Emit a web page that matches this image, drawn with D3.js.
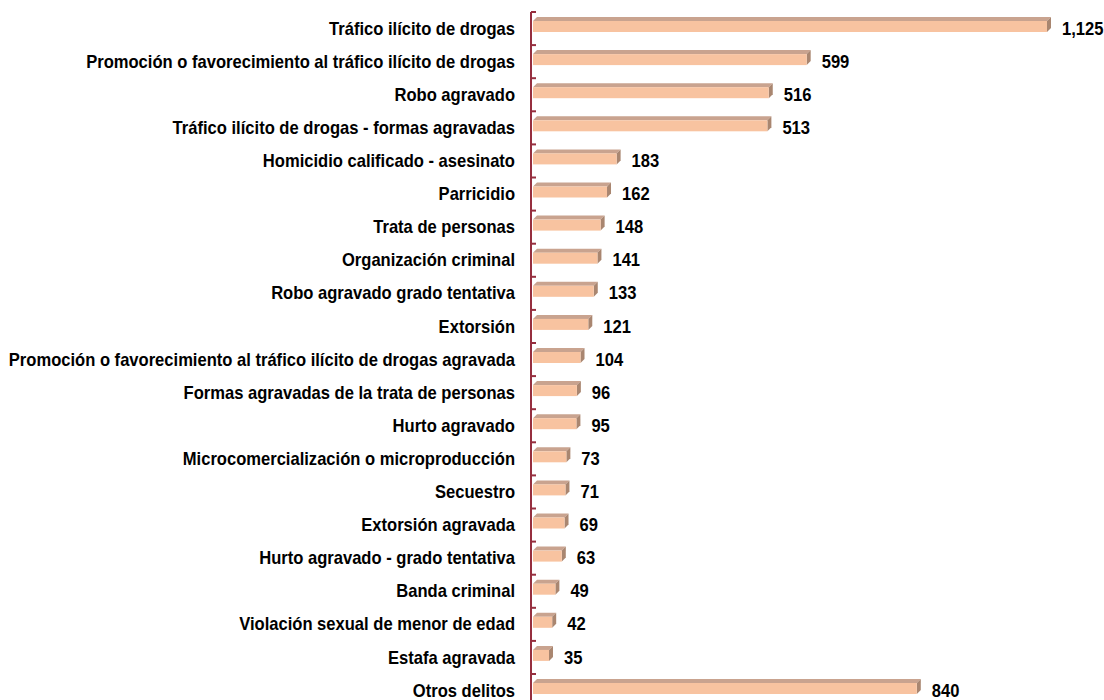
<!DOCTYPE html>
<html><head><meta charset="utf-8">
<script src="https://cdn.jsdelivr.net/npm/d3@7"></script>
<style>
body{margin:0;background:#fff;}
text{font-family:"Liberation Sans",Arial,sans-serif;font-weight:bold;fill:#000;}
</style></head>
<body><svg id="c" width="1104" height="700"></svg>
<script>
const categories = [
 "Tráfico ilícito de drogas",
 "Promoción o favorecimiento al tráfico ilícito de drogas",
 "Robo agravado",
 "Tráfico ilícito de drogas - formas agravadas",
 "Homicidio calificado - asesinato",
 "Parricidio",
 "Trata de personas",
 "Organización criminal",
 "Robo agravado grado tentativa",
 "Extorsión",
 "Promoción o favorecimiento al tráfico ilícito de drogas agravada",
 "Formas agravadas de la trata de personas",
 "Hurto agravado",
 "Microcomercialización o microproducción",
 "Secuestro",
 "Extorsión agravada",
 "Hurto agravado - grado tentativa",
 "Banda criminal",
 "Violación sexual de menor de edad",
 "Estafa agravada",
 "Otros delitos"
];
const values = [1125,599,516,513,183,162,148,141,133,121,104,96,95,73,71,69,63,49,42,35,840];

const svg = d3.select("#c");
const x0 = 533;
const x = d3.scaleLinear().domain([0,1125]).range([x0,1047]);
const y = d3.scaleBand().domain(categories).range([12, 12+33.1*21]).paddingInner(0).paddingOuter(0);
const fmt = d3.format(",");
const d = 4;
const barH = 15;
const fs = 17.5, sx = 0.947;

// axis
const axisG = svg.append("g").attr("transform",`translate(531,0)`);
axisG.append("line").attr("x1",0).attr("x2",0).attr("y1",y.range()[0]).attr("y2",y.range()[1]).attr("stroke","#962f3f").attr("stroke-width",2);
const ticks = d3.range(categories.length+1).map(i=>y.range()[0]+i*y.step());
axisG.selectAll("line.t").data(ticks).join("line").attr("class","t")
 .attr("x1",0).attr("x2",5).attr("y1",t=>t).attr("y2",t=>t).attr("stroke","#962f3f").attr("stroke-width",2);

const g = svg.append("g");
categories.forEach((c,i)=>{
  const v = values[i];
  const yt = y(c) + 5;
  const xe = x(v);
  const yc = y(c)+y.bandwidth()/2;
  g.append("path").attr("d",`M${x0},${yt+d} L${x0+d},${yt} L${xe+d},${yt} L${xe},${yt+d} Z`).attr("fill","#c9a38f");
  g.append("path").attr("d",`M${xe},${yt+d} L${xe+d},${yt} L${xe+d},${yt+barH-d} L${xe},${yt+barH} Z`).attr("fill","#a98670");
  g.append("rect").attr("x",x0).attr("y",yt+d).attr("width",xe-x0).attr("height",barH-d).attr("fill","#f8c3a0");
  g.append("text").attr("transform",`translate(${xe+15},${yc}) scale(${sx},1)`).attr("dy","0.35em").attr("font-size",fs).text(fmt(v));
  g.append("text").attr("transform",`translate(515,${yc}) scale(${sx},1)`).attr("dy","0.35em").attr("text-anchor","end").attr("font-size",fs).text(c);
});
</script></body></html>
